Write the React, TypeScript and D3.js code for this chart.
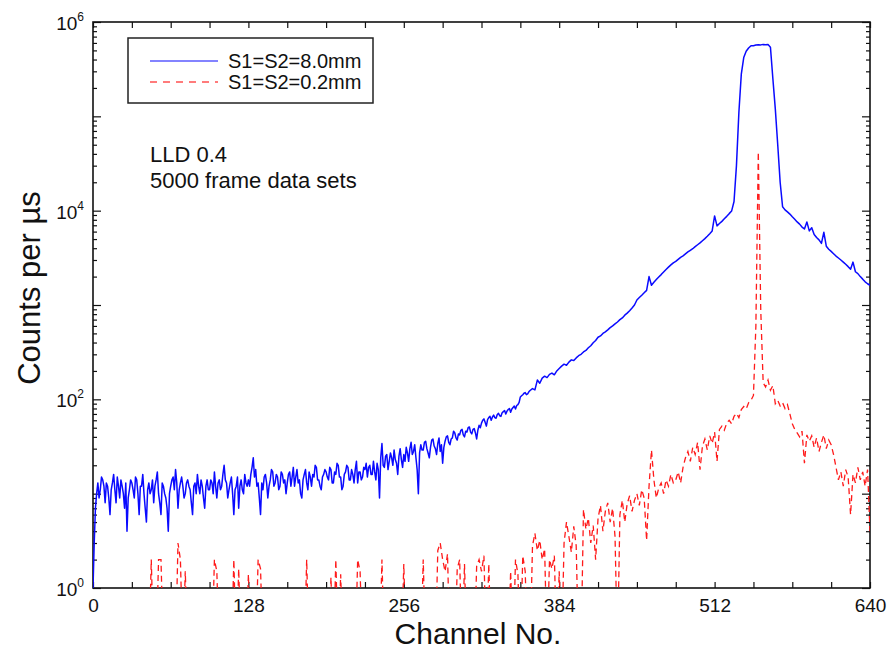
import { useEffect, useRef } from 'react'
import * as d3 from 'd3'

// channel numbers: every channel up to 359, then every 2nd channel
const wideChannels = [...d3.range(0, 360), ...d3.range(360, 641, 2)]
const narrowChannels = d3.range(0, 641, 2)

// counts per µs, S1=S2=8.0mm (blue)
const wideSlit = [
  1, 3, 7, 10, 13, 9, 11, 15, 14, 12, 8, 13, 12, 9, 6, 11, 13, 16, 11, 8, 15, 12, 9, 14, 12, 10, 7, 13, 4, 9, 11, 14,
  13, 11, 9, 15, 14, 10, 6, 12, 12, 16, 10, 7, 5, 11, 13, 10, 11, 14, 8, 12, 14, 17, 10, 8, 6, 13, 12, 10, 9, 7, 4, 10,
  12, 14, 15, 11, 18, 13, 7, 11, 13, 15, 12, 9, 10, 13, 14, 12, 11, 8, 6, 12, 13, 10, 16, 12, 10, 14, 12, 9, 7, 12, 14, 11,
  11, 14, 13, 10, 17, 12, 9, 13, 14, 11, 12, 16, 20, 14, 13, 9, 11, 13, 15, 10, 6, 11, 12, 15, 7, 12, 14, 11, 10, 16, 13, 12,
  14, 12, 16, 19, 24, 15, 18, 12, 13, 9, 6, 13, 11, 15, 16, 13, 9, 12, 14, 18, 17, 12, 13, 16, 15, 11, 12, 17, 16, 13, 14, 10,
  13, 16, 17, 12, 15, 19, 12, 15, 18, 13, 14, 10, 9, 14, 16, 18, 13, 11, 17, 15, 12, 16, 15, 20, 19, 14, 14, 12, 11, 15, 16, 18,
  17, 15, 14, 19, 18, 13, 13, 17, 16, 21, 20, 15, 15, 11, 12, 16, 17, 20, 19, 14, 14, 18, 16, 13, 18, 22, 13, 17, 17, 14, 15, 19,
  18, 21, 15, 19, 20, 16, 16, 22, 17, 14, 21, 18, 9, 24, 34, 20, 19, 25, 26, 18, 22, 27, 24, 20, 29, 23, 21, 16, 25, 30, 23, 19,
  26, 22, 31, 27, 22, 30, 35, 26, 28, 33, 24, 18, 10, 27, 33, 29, 29, 35, 36, 30, 27, 24, 31, 37, 38, 32, 30, 26, 34, 39, 28, 33,
  21, 31, 36, 40, 41, 35, 33, 38, 39, 46, 44, 39, 37, 43, 42, 47, 48, 42, 40, 46, 45, 50, 51, 45, 43, 48, 49, 44, 38, 47, 53, 50,
  56, 60, 62, 57, 52, 61, 64, 66, 60, 65, 68, 64, 63, 69, 71, 67, 66, 72, 74, 76, 70, 75, 78, 80, 73, 79, 82, 85, 79, 86, 88, 93,
  106, 109, 112, 116, 118, 112, 114, 120,
  // from channel 360 on, every 2nd channel
  124, 130, 126, 160, 148, 168, 176, 170, 184, 190, 182, 200,
  212, 225, 236, 230, 248, 262, 258, 275, 290, 300, 318, 330, 352, 370, 398, 420,
  455, 470, 500, 520, 545, 575, 600, 630, 660, 700, 730, 780, 820, 870, 930, 1000,
  1130, 1200, 1270, 1350, 1430, 2000, 1620, 1740, 1860, 1980, 2100, 2240, 2380, 2520, 2660, 2800,
  2900, 3050, 3200, 3320, 3480, 3650, 3800, 3950, 4150, 4350, 4550, 4800, 5050, 5350, 5700, 6100,
  8800, 6900, 7300, 7700, 8200, 8700, 9300, 9900, 12500, 30000, 110000, 280000, 420000, 490000, 530000, 560000,
  560000, 570000, 575000, 572000, 578000, 574000, 576000, 540000, 250000, 120000, 50000, 20000, 11000, 10200, 9700, 9200,
  8600, 8100, 7600, 7200, 6700, 6400, 7600, 6100, 6600, 5600, 5200, 4900, 4500, 5900, 4200, 3900,
  3700, 3500, 3300, 3150, 3000, 2850, 2700, 2550, 2400, 2850, 2250, 2150, 2000, 1880, 1760, 1680,
  1620,
]

// counts per µs, S1=S2=0.2mm (red, dashed); 0 = no counts
const narrowSlit = [
  0, 0, 0, 0, 0, 0, 0, 0, 0, 0, 0, 0, 0, 0, 0, 0,
  0, 0, 0, 0, 0, 0, 0, 0, 2, 0, 0, 2, 2, 0, 0, 0,
  0, 0, 0, 3, 2, 0, 1.5, 0, 0, 0, 0, 0, 0, 0, 0, 0,
  0, 0, 2, 1.5, 0, 0, 0, 0, 0, 0, 2, 0, 1.6, 0, 0, 0,
  1.4, 0, 0, 0, 2, 1.6, 0, 0, 0, 0, 0, 0, 0, 0, 0, 0,
  0, 0, 0, 0, 0, 0, 0, 0, 2, 0, 0, 0, 0, 0, 0, 0,
  0, 0, 1.3, 0, 2, 0, 1.4, 0, 0, 0, 0, 0, 0, 2, 1.5, 0,
  0, 0, 0, 0, 0, 0, 0, 2, 0, 0, 0, 0, 0, 0, 0, 0,
  1.8, 0, 0, 0, 0, 0, 0, 0, 2, 0, 0, 0, 0, 0, 2.5, 3,
  2, 1.5, 2.3, 0, 0, 0, 1.6, 2, 0, 1.8, 0, 0, 0, 0, 1.7, 2,
  1.5, 2.2, 0, 1.8, 0, 0, 0, 0, 0, 0, 0, 0, 1.5, 0, 2, 1.4,
  0, 2.2, 1.5, 0, 0, 2.8, 3.8, 2.5, 3.2, 2, 2.6, 0, 2, 1.6, 2.2, 0,
  1.5, 0, 3, 5, 3.5, 2.4, 4.5, 2.8, 0, 0, 6.8, 4.2, 5.5, 3, 4.6, 2,
  5.5, 7.5, 4, 6.5, 8, 5, 7, 3.5, 0, 6, 8.5, 5, 7.8, 9.5, 6.5, 8.5,
  10, 7.5, 11, 9, 3.2, 12, 29, 14, 9, 11.5, 13, 10, 14, 12, 16, 13,
  14, 17, 13, 19, 24, 28, 22, 31, 26, 35, 18, 32, 38, 29, 41, 34,
  45, 22, 48, 52, 47, 56, 60, 55, 66, 71, 64, 78, 84, 79, 92, 98,
  110, 600, 42000, 900, 150, 135, 160, 125, 140, 90, 98, 85, 92, 80, 88, 70,
  55, 48, 44, 40, 46, 21, 42, 36, 41, 31, 39, 28, 35, 42, 30, 37,
  33, 26, 19, 14, 17, 12, 18, 15, 6, 16, 13, 19, 14, 17, 12, 18,
  4,
]

const xLabels = [0, 128, 256, 384, 512, 640]
const yLabelExps = [0, 2, 4, 6]
const seriesNames = ['S1=S2=8.0mm', 'S1=S2=0.2mm']
const notes = ['LLD 0.4', '5000 frame data sets']

const FONT = '"Liberation Sans", Arial, sans-serif'

export default function App() {
  const svgRef = useRef<SVGSVGElement>(null)

  useEffect(() => {
    if (!svgRef.current) return
    const svg = d3.select(svgRef.current)
    svg.selectAll('*').remove()

    const plot = { left: 93, right: 870, top: 22, bottom: 588 }
    const x = d3.scaleLinear().domain([0, 640]).range([plot.left, plot.right])
    const y = d3.scaleLog().domain([1, 1e6]).range([plot.bottom, plot.top])

    svg.append('defs').append('clipPath').attr('id', 'plotclip')
      .append('rect')
      .attr('x', plot.left).attr('y', plot.top)
      .attr('width', plot.right - plot.left).attr('height', plot.bottom - plot.top)

    const majorY = d3.range(0, 7).map((e) => Math.pow(10, e))
    const minorY = d3.range(0, 6).flatMap((e) => d3.range(2, 10).map((k) => k * Math.pow(10, e)))
    const xTickVals = d3.range(0, 641, 32)

    const styleAxis = (g: any) => {
      g.select('.domain').remove()
      g.selectAll('line').attr('stroke', '#111').attr('stroke-width', 1.2)
    }

    // x ticks, bottom + top, inward
    svg.append('g')
      .attr('transform', `translate(0,${plot.bottom})`)
      .call(d3.axisBottom(x).tickValues(xTickVals).tickSize(-6).tickSizeOuter(0).tickPadding(11)
        .tickFormat((d: any) => (xLabels.includes(+d) ? String(d) : '')))
      .call(styleAxis)
      .call((g: any) => g.selectAll('text').attr('font-family', FONT).attr('font-size', 19).attr('fill', '#111'))
    svg.append('g')
      .attr('transform', `translate(0,${plot.top})`)
      .call(d3.axisTop(x).tickValues(xTickVals).tickSize(-6).tickSizeOuter(0).tickFormat(() => ''))
      .call(styleAxis)

    // y ticks, left + right, inward
    svg.append('g').attr('transform', `translate(${plot.left},0)`)
      .call(d3.axisLeft(y).tickValues(majorY).tickSize(-8).tickSizeOuter(0).tickFormat(() => ''))
      .call(styleAxis)
    svg.append('g').attr('transform', `translate(${plot.left},0)`)
      .call(d3.axisLeft(y).tickValues(minorY).tickSize(-4).tickSizeOuter(0).tickFormat(() => ''))
      .call(styleAxis)
    svg.append('g').attr('transform', `translate(${plot.right},0)`)
      .call(d3.axisRight(y).tickValues(majorY).tickSize(-8).tickSizeOuter(0).tickFormat(() => ''))
      .call(styleAxis)
    svg.append('g').attr('transform', `translate(${plot.right},0)`)
      .call(d3.axisRight(y).tickValues(minorY).tickSize(-4).tickSizeOuter(0).tickFormat(() => ''))
      .call(styleAxis)

    // y labels 10^n
    const yl = svg.append('g').selectAll('text').data(yLabelExps).join('text')
      .attr('x', plot.left - 9)
      .attr('y', (e) => y(Math.pow(10, e)) + 8)
      .attr('text-anchor', 'end')
      .attr('font-family', FONT)
      .attr('font-size', 19)
      .attr('fill', '#111')
    yl.append('tspan').text('10')
    yl.append('tspan').attr('dy', -9).attr('font-size', 12).text((e) => e)

    // frame
    svg.append('rect')
      .attr('x', plot.left).attr('y', plot.top)
      .attr('width', plot.right - plot.left).attr('height', plot.bottom - plot.top)
      .attr('fill', 'none').attr('stroke', '#111').attr('stroke-width', 1.6)

    const lineFor = (chs: number[]) => d3.line<number>()
      .x((_, i) => x(chs[i]))
      .y((v) => y(Math.max(v, 0.2)))

    const lines = svg.append('g').attr('clip-path', 'url(#plotclip)')
    lines.append('path').datum(narrowSlit)
      .attr('d', lineFor(narrowChannels)).attr('fill', 'none')
      .attr('stroke', '#ff1a1a').attr('stroke-width', 1.3).attr('stroke-dasharray', '6,4')
    lines.append('path').datum(wideSlit)
      .attr('d', lineFor(wideChannels)).attr('fill', 'none')
      .attr('stroke', '#0a0aff').attr('stroke-width', 1.5).attr('stroke-linejoin', 'round')

    // legend
    const lg = svg.append('g')
    lg.append('rect').attr('x', 128).attr('y', 38).attr('width', 245).attr('height', 65)
      .attr('fill', '#fff').attr('stroke', '#222').attr('stroke-width', 1.5)
    const styles = [
      { color: '#5a5aff', dash: null },
      { color: '#ff5050', dash: '7,6' },
    ]
    seriesNames.forEach((name, i) => {
      const ly = 61 + i * 21
      lg.append('line').attr('x1', 150).attr('x2', 218).attr('y1', ly).attr('y2', ly)
        .attr('stroke', styles[i].color).attr('stroke-width', 1.6)
        .attr('stroke-dasharray', styles[i].dash)
      lg.append('text').attr('x', 228).attr('y', ly + 6.5)
        .attr('font-family', FONT).attr('font-size', 20).attr('fill', '#111').text(name)
    })

    // annotation
    svg.append('g').selectAll('text').data(notes).join('text')
      .attr('x', 150).attr('y', (_, i) => 162 + i * 26)
      .attr('font-family', FONT).attr('font-size', 22).attr('fill', '#111')
      .text((d) => d)

    // axis titles
    svg.append('text').attr('x', 478).attr('y', 644)
      .attr('text-anchor', 'middle').attr('font-family', FONT).attr('font-size', 30)
      .attr('fill', '#111').text('Channel No.')
    svg.append('text').attr('transform', `translate(40,288) rotate(-90)`)
      .attr('text-anchor', 'middle').attr('font-family', FONT).attr('font-size', 31)
      .attr('fill', '#111').text('Counts per µs')
  }, [])

  return (
    <div style={{ position: 'absolute', left: 0, top: 0 }}>
      <svg ref={svgRef} width={890} height={653} style={{ display: 'block', background: '#fff' }} />
    </div>
  )
}
